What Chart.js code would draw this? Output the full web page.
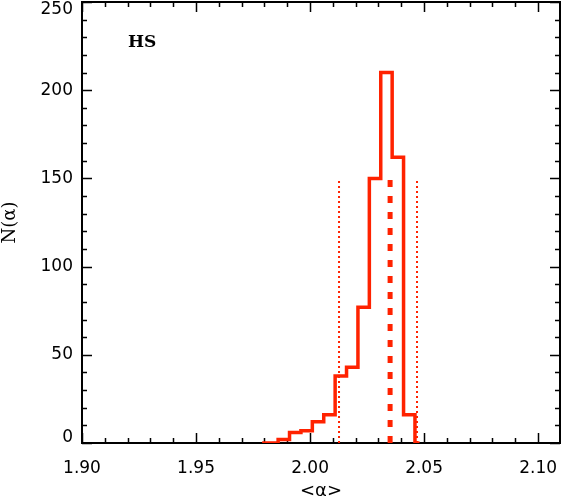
<!doctype html>
<html lang="en">
<head>
    <meta charset="utf-8">
    <title>HS</title>
    <script src="https://cdn.jsdelivr.net/npm/chart.js@4.4.1/dist/chart.umd.min.js"></script>
    <style>
        html, body { margin: 0; padding: 0; background: #fff; }
        #chartContainer { width: 562px; height: 500px; }
    </style>
    <script type="text/javascript">
        // left edge of each histogram bin and the count in it
        const binLeft = [1.979, 1.986, 1.991, 1.996, 2.001, 2.006, 2.011, 2.016, 2.021, 2.026, 2.031, 2.036, 2.041, 2.046];
        const counts  = [0, 2, 6, 7, 12, 16, 38, 43, 77, 150, 210, 162, 16, 0];
        const binEnd = 2.048;

        // vertical markers: lower bound, mean, upper bound
        const markerX = [2.0127, 2.0351, 2.0469];
        const markerTop = 150;

        const xTicks = [1.90, 1.95, 2.00, 2.05, 2.10];
        const yTicks = [0, 50, 100, 150, 200, 250];
        const xMin = 1.90, xMax = 2.1096;
        const yMin = 0, yMax = 250;

        const red = '#ff2200';

        // inward ticks on all four sides plus the frame and the label
        const framePlugin = {
            id: 'frame',
            beforeDraw(chart) {
                // keep the end labels of the y axis inside the frame height, like the original
                const items = chart.scales.y.getLabelItems(chart.chartArea);
                if (items.length) {
                    items[0].options.translation[1] -= 5;
                    items[items.length - 1].options.translation[1] += 8;
                }
            },
            beforeDatasetsDraw(chart) {
                const ctx = chart.ctx;
                const a = chart.chartArea;
                const xs = chart.scales.x, ys = chart.scales.y;
                ctx.save();
                ctx.strokeStyle = '#000';
                ctx.lineWidth = 1.5;
                for (let i = 0; i <= 21; i++) {
                    const v = 1.90 + i * 0.01;
                    if (v > xMax) break;
                    const px = Math.round(xs.getPixelForValue(v)) + 0.5;
                    const len = (i % 5 === 0) ? 10 : 5;
                    ctx.beginPath();
                    ctx.moveTo(px, a.bottom); ctx.lineTo(px, a.bottom - len);
                    ctx.moveTo(px, a.top); ctx.lineTo(px, a.top + len);
                    ctx.stroke();
                }
                for (let v = 0; v <= 250; v += 10) {
                    const py = Math.round(ys.getPixelForValue(v)) + 0.5;
                    const len = (v % 50 === 0) ? 10 : 5;
                    ctx.beginPath();
                    ctx.moveTo(a.left, py); ctx.lineTo(a.left + len, py);
                    ctx.moveTo(a.right, py); ctx.lineTo(a.right - len, py);
                    ctx.stroke();
                }
                ctx.lineWidth = 2;
                ctx.strokeRect(a.left, a.top, a.right - a.left, a.bottom - a.top);

                ctx.fillStyle = '#000';
                ctx.font = 'bold 17px "DejaVu Serif"';
                ctx.textBaseline = 'middle';
                ctx.fillText('HS', a.left + 46, a.top + 41);
                ctx.restore();
            }
        };

        // drop the room Chart.js keeps for half tick labels at the ends
        const noEdgePadding = (s) => {
            s.paddingLeft = 0; s.paddingRight = 0;
            s.paddingTop = 0; s.paddingBottom = 0;
        };

        const makeChart = () => {
            const histPoints = binLeft.map((x, i) => ({ x: x, y: counts[i] }));
            histPoints.push({ x: binEnd, y: 0 });

            const markerStyles = [
                { borderWidth: 2, borderDash: [2, 3] },
                { borderWidth: 5, borderDash: [7, 9] },
                { borderWidth: 2, borderDash: [2, 3] }
            ];
            const markerSets = markerX.map((x, i) => ({
                data: [{ x: x, y: 0 }, { x: x, y: markerTop }],
                borderColor: red,
                borderWidth: markerStyles[i].borderWidth,
                borderDash: markerStyles[i].borderDash,
                pointRadius: 0,
                fill: false
            }));

            const ctx = document.getElementById('myChart');
            new Chart(ctx, {
                type: 'line',
                data: {
                    datasets: [{
                        data: histPoints,
                        borderColor: red,
                        borderWidth: 3.5,
                        stepped: 'before',
                        pointRadius: 0,
                        fill: false
                    }].concat(markerSets)
                },
                options: {
                    responsive: false,
                    animation: false,
                    layout: { padding: { top: 2, right: 2, left: 0, bottom: 0 } },
                    plugins: { legend: { display: false }, tooltip: { enabled: false } },
                    scales: {
                        x: {
                            type: 'linear',
                            min: xMin,
                            max: xMax,
                            grid: { display: false, drawTicks: false },
                            border: { display: false },
                            afterBuildTicks: (s) => { s.ticks = xTicks.map(v => ({ value: v })); },
                            afterFit: (s) => { s.height = 57; noEdgePadding(s); },
                            ticks: {
                                color: '#000',
                                padding: 15,
                                maxRotation: 0,
                                font: { family: 'DejaVu Sans', size: 17 },
                                callback: (v) => Number(v).toFixed(2)
                            },
                            title: {
                                display: true,
                                text: '<α>',
                                color: '#000',
                                padding: 0,
                                font: { family: 'DejaVu Sans', size: 18, lineHeight: 1 }
                            }
                        },
                        y: {
                            min: yMin,
                            max: yMax,
                            grid: { display: false, drawTicks: false },
                            border: { display: false },
                            afterBuildTicks: (s) => { s.ticks = yTicks.map(v => ({ value: v })); },
                            afterFit: (s) => { s.width = 82; noEdgePadding(s); },
                            ticks: {
                                color: '#000',
                                padding: 9,
                                font: { family: 'DejaVu Sans', size: 17 }
                            },
                            title: {
                                display: true,
                                text: 'N(α)',
                                color: '#000',
                                padding: 0,
                                font: { family: 'DejaVu Serif', size: 18, lineHeight: 1.2 }
                            }
                        }
                    }
                },
                plugins: [framePlugin]
            });
        };

        window.onload = makeChart;
    </script>
</head>
<body>
    <div id="chartContainer">
        <canvas id="myChart" width="562" height="500"></canvas>
    </div>
</body>
</html>
